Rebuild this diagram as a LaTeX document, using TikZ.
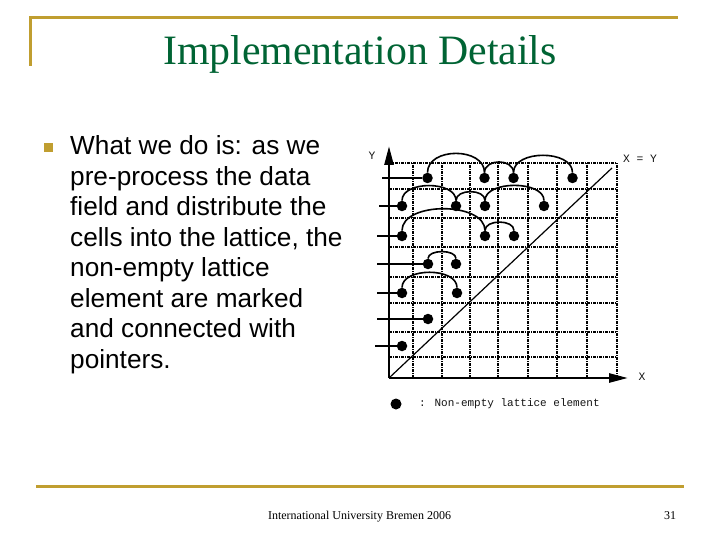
\documentclass[tikz,border=0pt]{standalone}
\usepackage{fontspec}
\setmainfont{Liberation Serif}
\newfontfamily\arialfont{Liberation Sans}
\newfontfamily\courfont{Liberation Mono}
\usetikzlibrary{arrows.meta}
\definecolor{gold}{RGB}{192,158,48}
\definecolor{titlegreen}{RGB}{0,100,52}
\definecolor{legendgray}{RGB}{20,20,20}
\tikzset{
  goldrule/.style={draw=gold, line width=3pt},
  gridline/.style={draw=black, line width=1.7pt, dash pattern=on 3pt off 1pt on 1pt off 1pt},
  axisline/.style={draw=black, line width=2.6pt, -{Triangle[length=19pt,width=9pt]}},
  latdot/.style={circle, fill=black, inner sep=0pt, minimum size=10.5pt},
  stub/.style={draw=black, line width=2.8pt},
  pointer/.style={draw=black, line width=1.6pt},
  bodytext/.style={font=\arialfont\fontsize{26.2}{30}\selectfont, anchor=base west, inner sep=0pt},
  monolabel/.style={font=\courfont\fontsize{11.3}{13}\selectfont, text=legendgray, inner sep=0pt}
}
\begin{document}
\begin{tikzpicture}[x=1pt,y=-1pt]
\useasboundingbox (0,0) rectangle (720,540);
\fill[white] (0,0) rectangle (720,540);
% frame rules
\coordinate (tl) at (30.5,18);
\coordinate (tr) at (678,18);
\coordinate (lb) at (30.5,66);
\draw[goldrule] (lb) -- (tl) -- (tr);
\coordinate (bl) at (36,486);
\coordinate (br) at (684,486);
\draw[goldrule] (bl) -- (br);
% title
\node[font=\fontsize{41.8}{42}\selectfont, text=titlegreen, anchor=base, inner sep=0pt] (title) at (360,65) {Implementation Details};
% bullet and text
\node[fill=gold, minimum size=9pt, inner sep=0pt] (bullet) at (48.5,147.5) {};
\node[bodytext] (l1) at (70,155) {What we do is: as we};
\node[bodytext] (l2) at (70,185.4) {pre-process the data};
\node[bodytext] (l3) at (70,215.9) {field and distribute the};
\node[bodytext] (l4) at (70,246.3) {cells into the lattice, the};
\node[bodytext] (l5) at (70,276.7) {non-empty lattice};
\node[bodytext] (l6) at (70,307.1) {element are marked};
\node[bodytext] (l7) at (70,337.6) {and connected with};
\node[bodytext] (l8) at (70,368) {pointers.};
% footer
\node[font=\fontsize{12}{14}\selectfont, inner sep=0pt] (footer) at (359.5,517) {International University Bremen 2006};
\node[font=\fontsize{12}{14}\selectfont, inner sep=0pt] (page) at (670,516) {31};
% grid
\foreach \yy in {163,189,218,247,277,303,332,357}
  \draw[gridline] (389,\yy) -- (617,\yy);
\foreach \xx in {413,442,470,498,528,557,587,617}
  \draw[gridline] (\xx,378) -- (\xx,163);
% diagonal
\coordinate (org) at (389,378);
\coordinate (diagend) at (612,168);
\draw[line width=1.2pt] (org) -- (diagend);
% axes
\coordinate (ytip) at (389,146);
\coordinate (xtip) at (628,378);
\draw[axisline] (org) -- (ytip);
\draw[axisline] (org) -- (xtip);
\node[monolabel] (ylab) at (372,156) {Y};
\node[monolabel] (xlab) at (642,377) {X};
\node[monolabel] (xylab) at (640,159) {X = Y};
% stubs start points
\coordinate (s1) at (382,178);
\coordinate (s2) at (379,206);
\coordinate (s3) at (377,236);
\coordinate (s4) at (377,264);
\coordinate (s5) at (377,293);
\coordinate (s6) at (377,319);
\coordinate (s7) at (375,346);
% lattice elements
\node[latdot] (r1a) at (427.5,178) {};
\node[latdot] (r1b) at (484.5,178) {};
\node[latdot] (r1c) at (513.5,178) {};
\node[latdot] (r1d) at (572.5,178) {};
\node[latdot] (r2a) at (402,206) {};
\node[latdot] (r2b) at (456,206) {};
\node[latdot] (r2c) at (485,206) {};
\node[latdot] (r2d) at (544,206) {};
\node[latdot] (r3a) at (402,236) {};
\node[latdot] (r3b) at (485,236) {};
\node[latdot] (r3c) at (514,236) {};
\node[latdot] (r4a) at (428,264) {};
\node[latdot] (r4b) at (456,264) {};
\node[latdot] (r5a) at (402,293) {};
\node[latdot] (r5b) at (457,293) {};
\node[latdot] (r6a) at (428,319) {};
\node[latdot] (r7a) at (402,346) {};
% stubs
\draw[stub, line width=2pt] (s1) -- (r1a);
\draw[stub] (s2) -- (r2a);
\draw[stub] (s3) -- (r3a);
\draw[stub] (s4) -- (r4a);
\draw[stub] (s5) -- (r5a);
\draw[stub] (s6) -- (r6a);
\draw[stub] (s7) -- (r7a);
% pointers
\draw[pointer] (r1a) to[out=90,in=90,looseness=1.15] (r1b);
\draw[pointer] (r1b) to[out=90,in=90,looseness=1.25] (r1c);
\draw[pointer] (r1c) to[out=90,in=90,looseness=1.0] (r1d);
\draw[pointer] (r2a) to[out=90,in=90,looseness=0.95] (r2b);
\draw[pointer] (r2b) to[out=90,in=90,looseness=1.05] (r2c);
\draw[pointer] (r2c) to[out=90,in=90,looseness=0.88] (r2d);
\draw[pointer] (r3a) to[out=90,in=90,looseness=0.9] (r3b);
\draw[pointer] (r3b) to[out=90,in=90,looseness=1.0] (r3c);
\draw[pointer] (r4a) to[out=90,in=90,looseness=0.85] (r4b);
\draw[pointer] (r5a) to[out=90,in=90,looseness=0.95] (r5b);
% legend
\node[latdot, minimum size=11pt] (legdot) at (396,404) {};
\node[monolabel, font=\courfont\fontsize{11}{13}\selectfont, anchor=west] (legtext) at (419,404) {: Non-empty lattice element};
\end{tikzpicture}
\end{document}
